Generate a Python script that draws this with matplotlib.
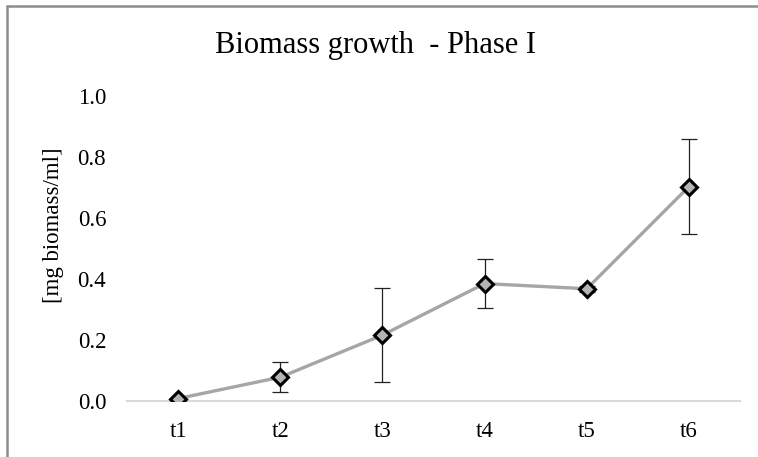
import matplotlib
matplotlib.use("Agg")
import matplotlib.pyplot as plt
from matplotlib.patches import Rectangle

categories = ["t1", "t2", "t3", "t4", "t5", "t6"]
values = [0.008, 0.078, 0.216, 0.385, 0.368, 0.703]
errors = [0.0, 0.05, 0.155, 0.08, 0.01, 0.155]
yticks = [0.0, 0.2, 0.4, 0.6, 0.8, 1.0]

plt.rcParams['font.family'] = ['Liberation Serif', 'DejaVu Serif']

fig = plt.figure(figsize=(7.58, 4.57), dpi=100)
ax = fig.add_axes([127/758, 1-401/457, (740-127)/758, (401-96)/457])

x = list(range(len(categories)))
ax.errorbar(x, values, yerr=errors, fmt='none', ecolor='#222222', elinewidth=0.9,
            capsize=6, capthick=0.9, zorder=2)
ax.plot(x, values, color='#a6a6a6', linewidth=2.4, zorder=3)
ax.plot(x, values, linestyle='none', marker='D', markersize=8.5,
        markerfacecolor='#b4b4b4', markeredgecolor='black', markeredgewidth=2.2, zorder=4)

ax.set_xlim(-0.5, len(categories) - 0.5)
ax.set_ylim(0, 1.0)
ax.set_xticks(x)
ax.set_xticklabels(categories)
ax.set_yticks(yticks)
ax.set_yticklabels([f"{v:.1f}" for v in yticks])
ax.tick_params(axis='both', length=0, labelsize=16.5, colors='black')
ax.tick_params(axis='x', pad=14.5)
ax.tick_params(axis='y', pad=15)
for s in ['top', 'right', 'left']:
    ax.spines[s].set_visible(False)
ax.spines['bottom'].set_color('#d9d9d9')
ax.spines['bottom'].set_linewidth(1.5)

fig.text(54/758, 1 - 225/457, "[mg biomass/ml]", rotation=90,
         ha='center', va='center', fontsize=16.5)
fig.text(376/758, 1 - 46/457, "Biomass growth  - Phase I",
         ha='center', va='center', fontsize=22)

fig.patches.append(Rectangle((7/758, -0.1), 1.1, 1 - 6/457 + 0.1, transform=fig.transFigure,
                             fill=False, edgecolor='#8c8c8c', linewidth=1.8))

fig.savefig("out.png", dpi=100)
